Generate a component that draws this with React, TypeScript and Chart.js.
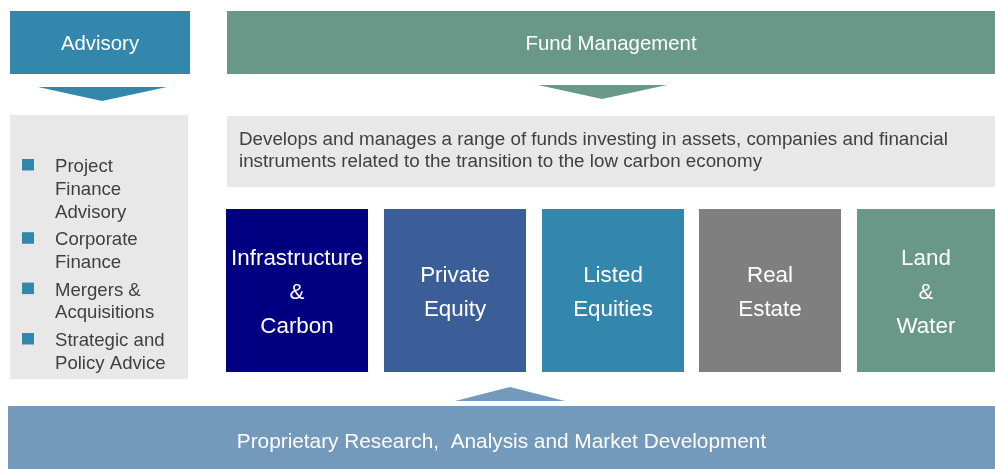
import React, { useEffect, useRef } from "react";
import { Chart, registerables } from "chart.js";

Chart.register(...registerables);

// ---- Content (text) ----
const headers: string[] = ["Advisory", "Fund Management"];
const advisoryItems: string[][] = [
  ["Project", "Finance", "Advisory"],
  ["Corporate", "Finance"],
  ["Mergers &", "Acquisitions"],
  ["Strategic and", "Policy Advice"],
];
const fundDescription: string[] = [
  "Develops and manages a range of funds investing in assets, companies and financial",
  "instruments related to the transition to the low carbon economy",
];
const fundTypes: string[][] = [
  ["Infrastructure", "&", "Carbon"],
  ["Private", "Equity"],
  ["Listed", "Equities"],
  ["Real", "Estate"],
  ["Land", "&", "Water"],
];
const footerText: string = "Proprietary Research,  Analysis and Market Development";

// ---- Styles ----
const headerColors: string[] = ["#3387ad", "#699788"];
const fundColors: string[] = ["#000080", "#3b5e98", "#3387ad", "#7f7f7f", "#699788"];
const greyPanel = "#e8e8e8";
const footerColor = "#7399bb";
const bulletColor = "#3387ad";
const bodyText = "#404040";
const FONT = '"Liberation Sans", Arial, Helvetica, sans-serif';

// ---- Layout in diagram units (mapped through the chart's scales) ----
const W = 995;
const H = 469;
const layout = {
  headerBoxes: [
    { x0: 10, x1: 190, y0: 11, y1: 74, cx: 100 },
    { x0: 227, x1: 995, y0: 11, y1: 74, cx: 611 },
  ],
  headerBaseline: 50,
  downTriangles: [
    { x0: 38, x1: 167, apex: 102, y0: 87, y1: 101 },
    { x0: 538, x1: 667, apex: 602, y0: 85, y1: 99 },
  ],
  leftPanel: { x0: 10, x1: 188, y0: 115, y1: 379 },
  bulletX: 22,
  bulletSize: 12,
  itemTextX: 55,
  firstBaseline: 172,
  lineHeight: 22.8,
  paraGap: 4.8,
  descPanel: { x0: 227, x1: 995, y0: 116, y1: 187 },
  descX: 239,
  descBaselines: [145, 167],
  fundBoxes: [
    { x0: 226, x1: 368 },
    { x0: 384, x1: 526 },
    { x0: 542, x1: 684 },
    { x0: 699, x1: 841 },
    { x0: 857, x1: 995 },
  ],
  fundY0: 209,
  fundY1: 372,
  fundLine: 34,
  upTriangle: { x0: 455, x1: 565, apex: 510, y0: 401, y1: 387 },
  footer: { x0: 8, x1: 995, y0: 406, y1: 469 },
  footerBaseline: 448,
};

const diagramPlugin = {
  id: "diagram",
  beforeDatasetsDraw(chart: any) {
    const ctx: CanvasRenderingContext2D = chart.ctx;
    const xs = chart.scales.x;
    const ys = chart.scales.y;
    const px = (v: number) => xs.getPixelForValue(v);
    const py = (v: number) => ys.getPixelForValue(v);
    const rect = (x0: number, y0: number, x1: number, y1: number, color: string) => {
      ctx.fillStyle = color;
      const a = px(x0), b = py(y0), c = px(x1), d = py(y1);
      ctx.fillRect(Math.min(a, c), Math.min(b, d), Math.abs(c - a), Math.abs(d - b));
    };
    const tri = (x0: number, x1: number, apex: number, yBase: number, yApex: number, color: string) => {
      ctx.fillStyle = color;
      ctx.beginPath();
      ctx.moveTo(px(x0), py(yBase));
      ctx.lineTo(px(x1), py(yBase));
      ctx.lineTo(px(apex), py(yApex));
      ctx.closePath();
      ctx.fill();
    };
    const text = (s: string, x: number, y: number, size: number, color: string, align: CanvasTextAlign) => {
      ctx.font = `${size}px ${FONT}`;
      ctx.fillStyle = color;
      ctx.textAlign = align;
      ctx.textBaseline = "alphabetic";
      ctx.fillText(s, px(x), py(y));
    };

    ctx.save();
    // headers
    layout.headerBoxes.forEach((b, i) => {
      rect(b.x0, b.y0, b.x1, b.y1, headerColors[i]);
      text(headers[i], b.cx, layout.headerBaseline, 20.4, "#ffffff", "center");
    });
    layout.downTriangles.forEach((t, i) => tri(t.x0, t.x1, t.apex, t.y0, t.y1, headerColors[i]));

    // advisory panel
    const lp = layout.leftPanel;
    rect(lp.x0, lp.y0, lp.x1, lp.y1, greyPanel);
    let base = layout.firstBaseline;
    advisoryItems.forEach((item) => {
      rect(layout.bulletX, base - 13, layout.bulletX + layout.bulletSize, base - 13 + layout.bulletSize - 0.5, bulletColor);
      item.forEach((line, j) => {
        text(line, layout.itemTextX, base + j * layout.lineHeight, 18.6, bodyText, "left");
      });
      base += item.length * layout.lineHeight + layout.paraGap;
    });

    // description
    const dp = layout.descPanel;
    rect(dp.x0, dp.y0, dp.x1, dp.y1, greyPanel);
    fundDescription.forEach((line, i) => text(line, layout.descX, layout.descBaselines[i], 18.8, bodyText, "left"));

    // fund boxes
    layout.fundBoxes.forEach((b, i) => {
      rect(b.x0, layout.fundY0, b.x1, layout.fundY1, fundColors[i]);
      const lines = fundTypes[i];
      const cx = (b.x0 + b.x1) / 2;
      const mid = (layout.fundY0 + layout.fundY1) / 2;
      const first = mid + 8.5 - ((lines.length - 1) * layout.fundLine) / 2;
      lines.forEach((l, j) => text(l, cx, first + j * layout.fundLine, 22.4, "#ffffff", "center"));
    });

    // up arrow and footer
    const ut = layout.upTriangle;
    tri(ut.x0, ut.x1, ut.apex, ut.y0, ut.y1, footerColor);
    const f = layout.footer;
    rect(f.x0, f.y0, f.x1, f.y1, footerColor);
    text(footerText, (f.x0 + f.x1) / 2, layout.footerBaseline, 20.8, "#ffffff", "center");
    ctx.restore();
  },
};

export default function App() {
  const ref = useRef<HTMLCanvasElement | null>(null);
  useEffect(() => {
    if (!ref.current) return;
    const chart = new Chart(ref.current, {
      type: "scatter",
      data: { datasets: [{ data: [], pointRadius: 0 }] },
      options: {
        responsive: false,
        animation: false,
        layout: { padding: 0 },
        plugins: { legend: { display: false }, tooltip: { enabled: false } },
        scales: {
          x: { type: "linear", min: 0, max: W, display: false },
          y: { type: "linear", min: 0, max: H, reverse: true, display: false },
        },
      },
      plugins: [diagramPlugin],
    });
    return () => chart.destroy();
  }, []);
  return (
    <div style={{ position: "absolute", left: 0, top: 0, width: W, height: H, background: "#fff" }}>
      <canvas ref={ref} width={W} height={H} style={{ display: "block" }} />
    </div>
  );
}
